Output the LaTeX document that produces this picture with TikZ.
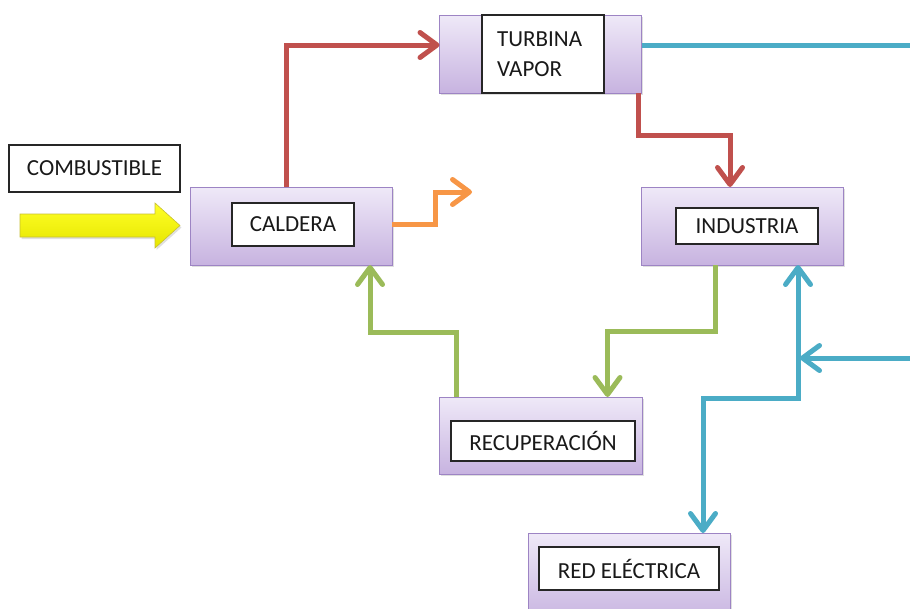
\documentclass[tikz,border=0pt]{standalone}
\usepackage{fontspec}
\setmainfont{Carlito}
\usetikzlibrary{arrows.meta,shadows,calc}
\definecolor{cred}{HTML}{C0504D}
\definecolor{cblue}{HTML}{4BACC6}
\definecolor{cgreen}{HTML}{9BBB59}
\definecolor{corange}{HTML}{F79646}
\definecolor{boxtop}{HTML}{EFE9F8}
\definecolor{boxbot}{HTML}{C7B3E0}
\definecolor{boxline}{HTML}{9D84C4}
\tikzset{
  proc/.style={draw=boxline, line width=1pt, top color=boxtop, bottom color=boxbot,
    drop shadow={shadow xshift=1.5pt, shadow yshift=-2pt, opacity=0.25},
    inner sep=0pt, outer sep=0pt},
  lab/.style={draw=black!85, line width=1.2pt, fill=white, inner sep=0pt,
    font=\fontsize{23}{27}\selectfont, text=black!90},
  flow/.style={line width=5pt, -{Straight Barb[length=17pt,width=25pt,round]}},
  flowboth/.style={line width=5pt, {Straight Barb[length=17pt,width=25pt,round]}-{Straight Barb[length=17pt,width=25pt,round]}},
  plain/.style={line width=5pt}
}
\begin{document}
\begin{tikzpicture}[x=1pt,y=-1pt]
\useasboundingbox (0,0) rectangle (910,608);
\clip (0,0) rectangle (910,608);
% boxes
\node[proc, minimum width=202pt, minimum height=78pt] (turb) at (540.5,54) {};
\node[lab, minimum width=122pt, minimum height=78pt] (turbl) at (543,54) {};
\node[font=\fontsize{23}{30}\selectfont, text=black!90, align=left, anchor=west, inner sep=0pt] (turbt) at (497,54) {TURBINA\\VAPOR};
\node[proc, minimum width=202pt, minimum height=78pt] (cald) at (291,226) {};
\node[lab, minimum width=122pt, minimum height=43pt] (caldl) at (293,224.5) {CALDERA};
\node[proc, minimum width=202pt, minimum height=78pt] (ind) at (742,226) {};
\node[lab, minimum width=142pt, minimum height=36pt] (indl) at (747,226) {INDUSTRIA};
\node[proc, minimum width=203pt, minimum height=77pt] (rec) at (540.5,435.5) {};
\node[lab, minimum width=184pt, minimum height=40pt] (recl) at (543,441) {RECUPERACIÓN};
\node[proc, minimum width=202pt, minimum height=90pt] (red) at (629,578) {};
\node[lab, minimum width=180pt, minimum height=43pt] (redl) at (629,568.5) {RED ELÉCTRICA};
\node[lab, minimum width=171pt, minimum height=47pt] (comb) at (94.5,168.5) {COMBUSTIBLE};
% yellow fuel arrow
\path[draw=yellow!75!black, line width=0.6pt, top color=yellow!85!white, bottom color=yellow!90!black,
  drop shadow={shadow xshift=1.5pt, shadow yshift=-2pt, opacity=0.25}]
  (20,214) -- (155,214) -- (155,203) -- (180,225.5) -- (155,248) -- (155,237) -- (20,237) -- cycle;
% free ends
\coordinate (blueout) at (910,45);
\coordinate (bluein) at (910,358);
\coordinate (junc) at (800,358);
\coordinate (orangeend) at (472,192);
% connectors
\draw[flow, cred] ([xshift=-5pt]cald.north) |- ([yshift=9pt]turb.west);
\draw[flow, cred] ([xshift=-3pt]turb.south east) -- ++(0,42) -| ([xshift=-12pt]ind.north);
\draw[plain, cblue] ([yshift=9pt]turb.east) -- (blueout);
\draw[flow, corange] ([yshift=2pt]cald.east) -- ++(43,0) |- (orangeend);
\draw[flow, cgreen] ([xshift=-27pt]ind.south) -- ++(0,66) -| ([xshift=67pt]rec.north);
\draw[flow, cgreen] ([xshift=-84.5pt]rec.north) -- ++(0,-65) -| ([xshift=79pt]cald.south);
\draw[flow, cblue] (bluein) -- (junc);
\draw[flowboth, cblue] ([xshift=74pt]red.north) -- ++(0,-135) -| ([xshift=56pt]ind.south);
\end{tikzpicture}
\end{document}
